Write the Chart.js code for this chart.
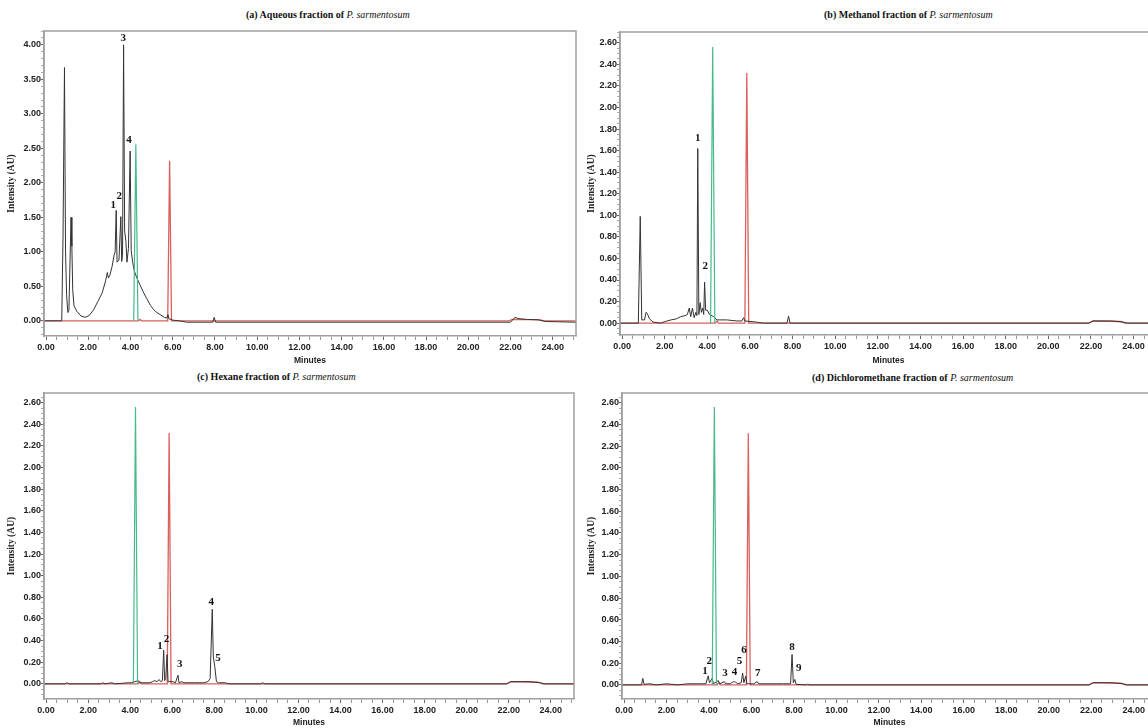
<!DOCTYPE html>
<html>
<head>
<meta charset="utf-8">
<script src="https://cdn.jsdelivr.net/npm/chart.js@4/dist/chart.umd.min.js"></script>
<style>
  html, body { margin:0; padding:0; background:#fff; }
  body { width:1148px; height:728px; overflow:hidden; position:relative; }
  .box { position:absolute; }
  .ttl { position:absolute; font-family:'Liberation Serif','Times New Roman',serif; font-size:10px; font-weight:bold; color:#111; white-space:nowrap; line-height:12px; }
  .ttl i { font-weight:normal; }
</style>
</head>
<body>
<div class="ttl" style="left:246px;top:9px;">(a) Aqueous fraction of <i>P. sarmentosum</i></div>
<div class="ttl" style="left:824px;top:9px;">(b) Methanol fraction of <i>P. sarmentosum</i></div>
<div class="ttl" style="left:197px;top:371px;">(c) Hexane fraction of <i>P. sarmentosum</i></div>
<div class="ttl" style="left:812px;top:372px;">(d) Dichloromethane fraction of <i>P. sarmentosum</i></div>

<div class="box" style="left:0;top:0;width:580px;height:366px;"><canvas id="cA"></canvas></div>
<div class="box" style="left:580px;top:0;width:580px;height:366px;"><canvas id="cB"></canvas></div>
<div class="box" style="left:0;top:366px;width:580px;height:362px;"><canvas id="cC"></canvas></div>
<div class="box" style="left:580px;top:366px;width:580px;height:362px;"><canvas id="cD"></canvas></div>

<script>
// ---------- DATA ----------
// Standard 1 (green) and standard 2 (red) overlays, retention time (min) / intensity (AU)
const std1Time = [4.15, 4.25, 4.35];
const std1Int  = [0, 2.56, 0];
const std2Time = [-0.1, 4.38, 4.45, 4.53, 5.76, 5.85, 5.94, 21.9, 22.1, 23.4, 23.6, 25.1];
const std2Int  = [0, 0, 0.02, 0, 0, 2.32, 0, 0, 0.02, 0.015, 0, 0];

// (a) Aqueous fraction
const aqTime = [-0.1, 0.74, 0.80, 0.87, 0.92, 0.97, 1.03, 1.08, 1.18, 1.22, 1.26, 1.32, 1.45, 1.65, 1.85, 2.05, 2.25, 2.45, 2.65, 2.82, 2.90, 2.95, 3.02, 3.12, 3.22, 3.27, 3.32, 3.36, 3.45, 3.54, 3.58, 3.62, 3.67, 3.72, 3.78, 3.83, 3.90, 3.98, 4.03, 4.10, 4.18, 4.30, 4.45, 4.60, 4.77, 4.95, 5.10, 5.25, 5.40, 5.60, 5.72, 5.77, 5.82, 6.00, 6.30, 6.67, 7.90, 7.96, 8.03, 22.0, 22.2, 22.4, 22.8, 23.3, 23.65, 25.1];
const aqInt  = [0, 0, 1.2, 3.67, 1.0, 0.38, 0.12, 0.15, 1.50, 1.08, 0.45, 0.22, 0.14, 0.07, 0.05, 0.08, 0.16, 0.28, 0.40, 0.58, 0.70, 0.62, 0.66, 0.78, 0.95, 1.00, 1.60, 0.85, 0.88, 1.51, 0.86, 0.95, 4.00, 1.30, 1.15, 0.85, 1.05, 2.46, 1.02, 0.85, 0.72, 0.62, 0.52, 0.42, 0.32, 0.22, 0.16, 0.12, 0.09, 0.05, 0.04, 0.09, 0.03, 0.01, 0.0, -0.02, -0.02, 0.05, -0.02, -0.02, 0.05, 0.03, 0.02, 0.015, -0.01, -0.02];
const aqLabels = ['1', '2', '3', '4'];
const aqLabelTime = [3.18, 3.46, 3.65, 3.93];
const aqLabelInt  = [1.68, 1.80, 4.09, 2.62];

// (b) Methanol fraction
const meTime = [-0.1, 0.76, 0.85, 0.92, 1.05, 1.12, 1.18, 1.28, 1.45, 1.80, 2.10, 2.30, 2.55, 2.75, 2.95, 3.06, 3.15, 3.22, 3.30, 3.38, 3.46, 3.51, 3.55, 3.60, 3.66, 3.72, 3.78, 3.83, 3.87, 3.92, 4.00, 4.10, 4.29, 4.45, 4.90, 5.40, 5.62, 5.70, 5.76, 6.30, 6.60, 7.74, 7.81, 7.88, 21.9, 22.1, 23.0, 23.5, 23.7, 25.1];
const meInt  = [0, 0, 0.99, 0.03, 0.03, 0.10, 0.09, 0.04, 0.01, 0.0, 0.02, 0.03, 0.04, 0.06, 0.07, 0.08, 0.14, 0.06, 0.14, 0.05, 0.10, 0.07, 1.62, 0.08, 0.19, 0.10, 0.14, 0.08, 0.38, 0.12, 0.12, 0.08, 0.06, 0.03, 0.03, 0.02, 0.02, 0.05, 0.02, 0.01, 0.0, 0.0, 0.065, 0.0, 0.0, 0.02, 0.02, 0.01, 0.0, 0.0];
const meLabels = ['1', '2'];
const meLabelTime = [3.55, 3.90];
const meLabelInt  = [1.72, 0.53];

// (c) Hexane fraction
const hxTime = [-0.1, 0.90, 0.98, 1.10, 2.60, 2.70, 2.80, 3.10, 3.30, 3.90, 4.05, 4.38, 4.45, 4.70, 4.93, 5.05, 5.17, 5.27, 5.37, 5.45, 5.53, 5.59, 5.64, 5.69, 5.75, 5.80, 6.03, 6.15, 6.27, 6.32, 6.45, 6.55, 7.05, 7.50, 7.69, 7.80, 7.90, 7.95, 8.02, 8.10, 8.20, 8.50, 8.70, 10.2, 10.3, 10.4, 21.9, 22.1, 23.0, 23.5, 23.7, 25.1];
const hxInt  = [0, 0, 0.01, 0, 0, 0.01, 0, 0.01, 0, 0.01, 0.01, 0.03, 0.01, 0.01, 0.01, 0.02, 0.03, 0.02, 0.04, 0.02, 0.03, 0.31, 0.03, 0.05, 0.27, 0.02, 0.02, 0.01, 0.08, 0.01, 0.02, 0.01, 0.01, 0.01, 0.02, 0.05, 0.69, 0.25, 0.16, 0.02, 0.01, 0.01, 0, 0, 0.01, 0, 0, 0.02, 0.02, 0.01, 0, 0];
const hxLabels = ['1', '2', '3', '4', '5'];
const hxLabelTime = [5.42, 5.73, 6.35, 7.85, 8.17];
const hxLabelInt  = [0.35, 0.41, 0.18, 0.76, 0.24];

// (d) Dichloromethane fraction
const dcTime = [-0.1, 0.82, 0.88, 0.94, 1.2, 1.5, 2.0, 2.5, 3.0, 3.5, 3.85, 3.96, 4.02, 4.15, 4.20, 4.44, 4.50, 4.72, 4.78, 5.00, 5.15, 5.25, 5.35, 5.52, 5.58, 5.64, 5.73, 5.78, 6.10, 6.27, 6.33, 7.50, 7.84, 7.91, 7.97, 8.04, 8.10, 8.60, 8.65, 8.70, 21.9, 22.1, 23.0, 23.5, 23.7, 25.1];
const dcInt  = [0, 0, 0.06, 0.005, 0.01, 0.0, 0.01, 0.0, 0.01, 0.01, 0.01, 0.083, 0.02, 0.06, 0.01, 0.04, 0.01, 0.03, 0.01, 0.01, 0.03, 0.025, 0.01, 0.02, 0.11, 0.02, 0.08, 0.01, 0.01, 0.03, 0.01, 0.01, 0.01, 0.28, 0.02, 0.05, 0.005, 0.0, 0.01, 0, 0, 0.02, 0.02, 0.01, 0, 0];
const dcLabels = ['1', '2', '3', '4', '5', '6', '7', '8', '9'];
const dcLabelTime = [3.81, 4.01, 4.75, 5.20, 5.44, 5.65, 6.29, 7.91, 8.23];
const dcLabelInt  = [0.13, 0.22, 0.11, 0.12, 0.22, 0.32, 0.11, 0.35, 0.15];

// ---------- helpers ----------
function pts(t, v) { return t.map((x, i) => ({ x: x, y: v[i] })); }
function makeTicks(min, max, step) {
  const arr = [];
  const s = Math.ceil(min / step - 1e-9);
  for (let i = s; i * step <= max + 1e-9; i++) arr.push({ value: +(i * step).toFixed(4) });
  return arr;
}
function isMult(v, m) { return Math.abs(v / m - Math.round(v / m)) < 1e-6; }

const boxPlugin = {
  id: 'boxPlugin',
  afterDraw(chart) {
    const a = chart.chartArea, c = chart.ctx;
    c.save();
    c.strokeStyle = '#a0a0a0';
    c.lineWidth = 1.5;
    c.beginPath();
    c.moveTo(a.left, a.bottom);
    c.lineTo(a.left, a.top);
    c.lineTo(a.right, a.top);
    c.lineTo(a.right, a.bottom);
    c.stroke();
    c.restore();
  }
};
const peakLabelPlugin = {
  id: 'peakLabels',
  afterDatasetsDraw(chart, args, opts) {
    const c = chart.ctx, xs = chart.scales.x, ys = chart.scales.y;
    c.save();
    c.font = 'bold 11px "Liberation Serif", "Times New Roman", serif';
    c.fillStyle = '#111';
    c.textAlign = 'center';
    c.textBaseline = 'middle';
    opts.labels.forEach((l, i) => {
      c.fillText(l, xs.getPixelForValue(opts.times[i]), ys.getPixelForValue(opts.ints[i]));
    });
    c.restore();
  }
};

function build(id, cfg) {
  const black = '#333333', green = '#48b98a', red = '#d9605c';
  return new Chart(document.getElementById(id), {
    type: 'line',
    data: {
      datasets: [
        { data: pts(std1Time, std1Int), borderColor: green, borderWidth: 1.2, pointRadius: 0, tension: 0, order: 0 },
        { data: pts(cfg.t, cfg.v), borderColor: black, borderWidth: 1, pointRadius: 0, tension: 0, order: 1 },
        { data: pts(std2Time, std2Int), borderColor: red, borderWidth: 1.3, pointRadius: 0, tension: 0, order: 2 }
      ]
    },
    options: {
      responsive: true,
      maintainAspectRatio: false,
      animation: false,
      events: [],
      layout: { padding: { top: cfg.padTop, right: cfg.padRight, left: 0, bottom: 0 } },
      plugins: {
        legend: { display: false },
        tooltip: { enabled: false },
        title: { display: false },
        peakLabels: { labels: cfg.labels, times: cfg.lt, ints: cfg.li }
      },
      scales: {
        x: {
          type: 'linear',
          min: -0.1, max: 25.1,
          afterBuildTicks: (ax) => { ax.ticks = makeTicks(ax.min, ax.max, 0.5); },
          afterFit: (ax) => { ax.height = cfg.xH; },
          border: { display: true, color: '#a0a0a0', width: 1.5 },
          grid: { drawOnChartArea: false, drawTicks: true, tickLength: 4, tickWidth: 1,
                  tickColor: (ctx) => (ctx.tick && isMult(ctx.tick.value, 2)) ? '#666' : '#999' },
          ticks: {
            autoSkip: false, maxRotation: 0, padding: 2, color: '#222',
            font: { family: '"Liberation Sans", Arial, sans-serif', weight: 'bold', size: 9 },
            callback: (v) => isMult(v, 2) && v >= 0 ? v.toFixed(2) : ''
          },
          title: { display: true, text: 'Minutes', color: '#222', padding: 0,
                   font: { family: '"Liberation Sans", Arial, sans-serif', weight: 'bold', size: 8.5 } }
        },
        y: {
          type: 'linear',
          min: cfg.yMin, max: cfg.yMax,
          afterBuildTicks: (ax) => { ax.ticks = makeTicks(ax.min, ax.max, cfg.yMinor); },
          afterFit: (ax) => { ax.width = cfg.yW; },
          border: { display: true, color: '#a0a0a0', width: 1.5 },
          grid: { drawOnChartArea: false, drawTicks: true, tickLength: 3, tickWidth: 1,
                  tickColor: (ctx) => (ctx.tick && isMult(ctx.tick.value, cfg.yMajor)) ? '#666' : '#aaa' },
          ticks: {
            autoSkip: false, padding: 0, color: '#222',
            font: { family: '"Liberation Sans", Arial, sans-serif', weight: 'bold', size: 9 },
            callback: (v) => isMult(v, cfg.yMajor) && v >= -1e-9 ? Math.abs(v).toFixed(2) : ''
          },
          title: { display: true, text: 'Intensity (AU)', color: '#222', padding: { top: 6, bottom: 0 },
                   font: { family: '"Liberation Serif", "Times New Roman", serif', weight: 'bold', size: 9.5 } }
        }
      }
    },
    plugins: [boxPlugin, peakLabelPlugin]
  });
}

build('cA', { t: aqTime, v: aqInt, labels: aqLabels, lt: aqLabelTime, li: aqLabelInt,
  yMin: -0.22, yMax: 4.2, yMajor: 0.5, yMinor: 0.1, yW: 44, xH: 30, padTop: 31, padRight: 4 });
build('cB', { t: meTime, v: meInt, labels: meLabels, lt: meLabelTime, li: meLabelInt,
  yMin: -0.11, yMax: 2.70, yMajor: 0.2, yMinor: 0.05, yW: 40, xH: 31, padTop: 32, padRight: 3 });
build('cC', { t: hxTime, v: hxInt, labels: hxLabels, lt: hxLabelTime, li: hxLabelInt,
  yMin: -0.14, yMax: 2.69, yMajor: 0.2, yMinor: 0.05, yW: 44, xH: 29, padTop: 27, padRight: 6 });
build('cD', { t: dcTime, v: dcInt, labels: dcLabels, lt: dcLabelTime, li: dcLabelInt,
  yMin: -0.13, yMax: 2.69, yMajor: 0.2, yMinor: 0.05, yW: 42, xH: 29, padTop: 27, padRight: 3 });
</script>
</body>
</html>
